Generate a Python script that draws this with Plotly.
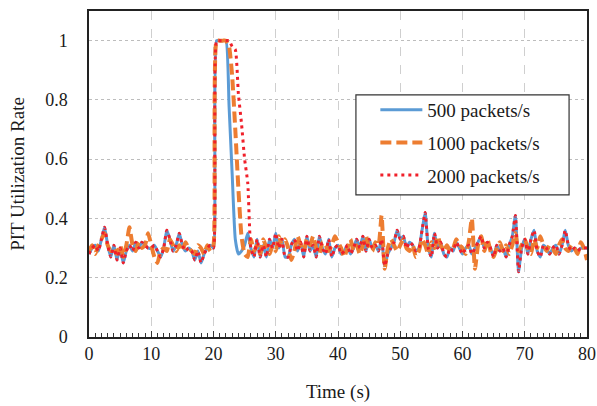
import plotly.graph_objects as go

time_s = [i * 0.5 for i in range(161)]

rate_500 = [
    0.28,0.30,0.31,0.29,0.33,0.37,0.31,0.27,0.31,0.26,
    0.30,0.25,0.29,0.31,0.29,0.32,0.30,0.32,0.31,0.30,
    0.30,0.31,0.29,0.27,0.30,0.36,0.33,0.29,0.31,0.35,
    0.31,0.29,0.30,0.29,0.26,0.29,0.25,0.28,0.30,0.31,
    0.30,1.00,1.00,1.00,1.00,0.78,0.55,0.33,0.28,0.29,
    0.31,0.35,0.30,0.27,0.33,0.27,0.31,0.27,0.33,0.30,
    0.35,0.30,0.33,0.27,0.27,0.31,0.33,0.29,0.32,0.27,
    0.34,0.29,0.31,0.27,0.34,0.30,0.28,0.33,0.27,0.30,
    0.31,0.28,0.29,0.31,0.28,0.30,0.33,0.30,0.34,0.29,
    0.33,0.30,0.31,0.29,0.33,0.24,0.28,0.30,0.32,0.36,
    0.33,0.34,0.30,0.32,0.31,0.29,0.30,0.36,0.42,0.30,
    0.27,0.35,0.30,0.32,0.28,0.27,0.30,0.29,0.32,0.30,
    0.28,0.30,0.31,0.28,0.30,0.32,0.34,0.30,0.32,0.30,
    0.27,0.31,0.29,0.30,0.27,0.31,0.34,0.41,0.22,0.30,
    0.33,0.28,0.33,0.36,0.29,0.27,0.31,0.30,0.28,0.30,
    0.31,0.28,0.31,0.36,0.31,0.29,0.30,0.29,0.30,0.30,
    0.30,
]

rate_1000 = [
    0.29,0.31,0.28,0.31,0.33,0.35,0.31,0.29,0.30,0.28,
    0.31,0.27,0.31,0.37,0.31,0.29,0.32,0.30,0.31,0.35,
    0.31,0.27,0.25,0.29,0.30,0.29,0.33,0.31,0.29,0.31,
    0.29,0.32,0.30,0.29,0.28,0.31,0.30,0.28,0.31,0.29,
    0.31,1.00,1.00,1.00,1.00,0.98,0.88,0.70,0.50,0.34,
    0.28,0.27,0.33,0.29,0.31,0.28,0.33,0.30,0.28,0.31,
    0.29,0.34,0.31,0.33,0.30,0.26,0.29,0.34,0.31,0.29,
    0.33,0.31,0.34,0.30,0.28,0.32,0.31,0.29,0.31,0.34,
    0.32,0.30,0.27,0.30,0.33,0.29,0.31,0.28,0.31,0.34,
    0.30,0.29,0.32,0.31,0.41,0.23,0.30,0.33,0.31,0.29,
    0.31,0.33,0.30,0.29,0.31,0.27,0.29,0.33,0.31,0.28,
    0.32,0.30,0.34,0.31,0.29,0.31,0.29,0.30,0.33,0.31,
    0.30,0.28,0.32,0.40,0.23,0.31,0.34,0.29,0.33,0.29,
    0.27,0.30,0.32,0.29,0.31,0.28,0.31,0.35,0.29,0.31,
    0.33,0.30,0.28,0.33,0.30,0.34,0.31,0.29,0.31,0.30,
    0.28,0.31,0.33,0.30,0.29,0.31,0.30,0.28,0.32,0.30,
    0.26,
]

rate_2000 = [
    0.28,0.30,0.31,0.29,0.33,0.37,0.31,0.27,0.31,0.26,
    0.30,0.25,0.29,0.31,0.29,0.32,0.30,0.32,0.31,0.30,
    0.30,0.31,0.29,0.27,0.30,0.36,0.33,0.29,0.31,0.35,
    0.31,0.29,0.30,0.29,0.26,0.29,0.25,0.28,0.30,0.31,
    0.30,1.00,1.00,1.00,1.00,1.00,0.98,0.97,0.82,0.72,
    0.60,0.52,0.30,0.27,0.33,0.27,0.31,0.27,0.33,0.30,
    0.35,0.30,0.33,0.27,0.27,0.31,0.33,0.29,0.32,0.27,
    0.34,0.29,0.31,0.27,0.34,0.30,0.28,0.33,0.27,0.30,
    0.31,0.28,0.29,0.31,0.28,0.30,0.33,0.30,0.34,0.29,
    0.33,0.30,0.31,0.29,0.33,0.24,0.28,0.30,0.32,0.36,
    0.33,0.34,0.30,0.32,0.31,0.29,0.30,0.36,0.42,0.30,
    0.27,0.35,0.30,0.32,0.28,0.27,0.30,0.29,0.32,0.30,
    0.28,0.30,0.31,0.28,0.30,0.32,0.34,0.30,0.32,0.30,
    0.27,0.31,0.29,0.30,0.27,0.31,0.34,0.41,0.22,0.30,
    0.33,0.28,0.33,0.36,0.29,0.27,0.31,0.30,0.28,0.30,
    0.31,0.28,0.31,0.36,0.31,0.29,0.30,0.29,0.30,0.30,
    0.30,
]

series_names = ["500 packets/s", "1000 packets/s", "2000 packets/s"]
y_ticks = [0, 0.2, 0.4, 0.6, 0.8, 1]
y_tick_labels = ["0", "0.2", "0.4", "0.6", "0.8", "1"]
x_ticks = [0, 10, 20, 30, 40, 50, 60, 70, 80]

FONT = "Liberation Serif"
TXT = "#1a1a1a"

fig = go.Figure()
styles = [
    dict(color="#5B9BD5", width=3, dash="solid"),
    dict(color="#ED7D31", width=4, dash="11px,5px"),
    dict(color="#F0202A", width=3, dash="3px,4px"),
]
for name, ys, st, grp in zip(series_names, [rate_500, rate_1000, rate_2000], styles, ["a", "b", "c"]):
    fig.add_trace(go.Scatter(
        x=time_s, y=ys, mode="lines", name=name, legendgroup=grp,
        line=dict(color=st["color"], width=st["width"], dash=st["dash"], shape="spline", smoothing=0.5),
    ))

# legend frame (plot-paper coordinates)
fig.add_shape(type="rect", xref="paper", yref="paper",
              x0=0.536, x1=0.964, y0=0.436, y1=0.743,
              line=dict(color="#333333", width=1.2), fillcolor="white", layer="above")

fig.update_layout(
    width=597, height=406,
    margin=dict(l=89, r=10, t=11, b=69, autoexpand=False),
    paper_bgcolor="white", plot_bgcolor="white",
    font=dict(family=FONT, size=18, color=TXT),
    legend=dict(
        x=0.575, y=0.755, xanchor="left", yanchor="top",
        borderwidth=0, bgcolor="rgba(0,0,0,0)",
        font=dict(family=FONT, size=19, color=TXT),
        tracegroupgap=5, itemwidth=42,
    ),
    showlegend=True,
)

fig.update_xaxes(
    range=[0, 80], tickvals=x_ticks, automargin=False,
    tickfont=dict(family=FONT, size=18, color=TXT),
    title=dict(text="Time (s)", font=dict(family=FONT, size=19, color=TXT), standoff=21),
    showline=True, linecolor="#222222", linewidth=1.5, mirror=True,
    showgrid=True, gridcolor="#cfcfcf", griddash="dash", gridwidth=1,
    ticks="inside", ticklen=6, tickcolor="#333333",
    minor=dict(dtick=1, ticks="inside", ticklen=4, tickcolor="#333333", showgrid=False),
    zeroline=False,
)
fig.update_yaxes(
    range=[0, 1.1], tickvals=y_ticks, ticktext=y_tick_labels, automargin=False,
    tickfont=dict(family=FONT, size=18, color=TXT), ticklabelstandoff=16,
    title=dict(text="PIT Utilization Rate", font=dict(family=FONT, size=19, color=TXT), standoff=16),
    showline=True, linecolor="#222222", linewidth=1.5, mirror=True,
    showgrid=True, gridcolor="#bdbdbd", griddash="dot", gridwidth=1,
    ticks="", zeroline=False,
)

fig.write_html("out.html")
